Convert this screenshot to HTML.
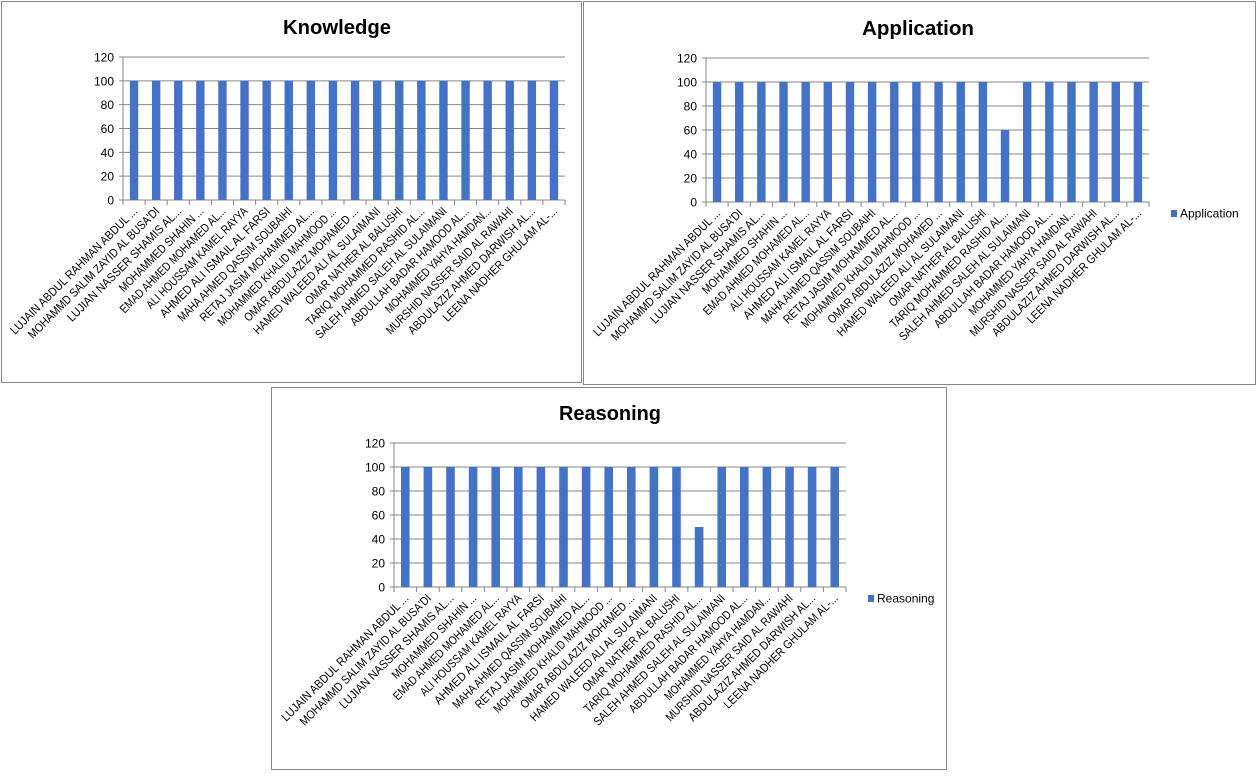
<!DOCTYPE html>
<html><head><meta charset="utf-8"><style>
html,body{margin:0;padding:0;background:#fff;width:1259px;height:777px;overflow:hidden}
svg{position:absolute;left:0;top:0}
</style></head><body>
<svg id="s" width="1259" height="777" xmlns="http://www.w3.org/2000/svg" font-family="Liberation Sans, sans-serif"></svg>
<script>
const names=["LUJAIN ABDUL RAHMAN ABDUL ...","MOHAMMD SALIM ZAYID AL BUSA'DI","LUJIAN NASSER SHAMIS AL...","MOHAMMED SHAHIN ...","EMAD AHMED MOHAMED AL...","ALI HOUSSAM KAMEL RAYYA","AHMED ALI ISMAIL AL FARSI","MAHA AHMED QASSIM SOUBAIHI","RETAJ JASIM MOHAMMED AL...","MOHAMMED KHALID MAHMOOD ...","OMAR ABDULAZIZ MOHAMED ...","HAMED WALEED ALI AL SULAIMANI","OMAR NATHER AL BALUSHI","TARIQ MOHAMMED RASHID AL...","SALEH AHMED SALEH AL SULAIMANI","ABDULLAH BADAR HAMOOD AL...","MOHAMMED YAHYA HAMDAN...","MURSHID NASSER SAID AL RAWAHI","ABDULAZIZ AHMED DARWISH AL...","LEENA NADHER GHULAM AL-..."];
let h='';
function chart(o){
 h+=`<rect x="${o.bx}" y="${o.by}" width="${o.bw}" height="${o.bh}" fill="#fff" stroke="#888" stroke-width="1"/>`;
 h+=`<text x="${o.tx}" y="${o.ty}" font-size="20" font-weight="bold" text-anchor="middle" textLength="${o.tl}" lengthAdjust="spacingAndGlyphs">${o.title}</text>`;
 const L=o.x0,R=o.x1,T=o.y120,B=o.y0,cw=(R-L)/20,sc=(B-T)/120;
 for(let v=0;v<=120;v+=20){const y=B-v*sc;
  h+=`<line x1="${L-4}" y1="${y}" x2="${R}" y2="${y}" stroke="#868686"/>`;
  h+=`<text x="${L-9}" y="${y+4.5}" font-size="12" text-anchor="end">${v}</text>`;}
 h+=`<line x1="${L}" y1="${T}" x2="${L}" y2="${B}" stroke="#868686"/>`;
 for(let i=0;i<=20;i++){const x=L+i*cw;h+=`<line x1="${x}" y1="${B}" x2="${x}" y2="${B+5}" stroke="#868686"/>`;}
 for(let i=0;i<20;i++){const cx=L+(i+0.5)*cw,v=o.data[i],bw=cw*0.38;
  h+=`<rect x="${cx-bw/2}" y="${B-v*sc}" width="${bw}" height="${v*sc}" fill="#4472C4"/>`;
  const n=names[i],len=n.length*6.0;
  h+=`<text transform="translate(${cx+4},${B+12}) rotate(-45)" font-size="12" text-anchor="end" textLength="${len}" lengthAdjust="spacingAndGlyphs">${n}</text>`;}
 if(o.leg){h+=`<rect x="${o.lx}" y="${o.ly-4}" width="6" height="7" fill="#4472C4"/><text x="${o.lx+9}" y="${o.ly+3.5}" font-size="12">${o.title}</text>`;}
}
const full=Array(20).fill(100);
const app=full.slice();app[13]=60;
const rea=full.slice();rea[13]=50;
chart({bx:1.5,by:1.5,bw:580,bh:381,title:"Knowledge",tl:108,tx:337,ty:34,x0:123,x1:565,y120:57,y0:200,data:full});
chart({bx:583.5,by:1.5,bw:672,bh:383,title:"Application",tl:112,tx:918,ty:35,x0:706,x1:1149,y120:58,y0:202,data:app,leg:1,lx:1171,ly:214});
chart({bx:271.5,by:387.5,bw:675,bh:382,title:"Reasoning",tl:102,tx:610,ty:420,x0:394,x1:846,y120:443,y0:587,data:rea,leg:1,lx:868,ly:599});
document.getElementById('s').innerHTML=h;
</script>
</body></html>
